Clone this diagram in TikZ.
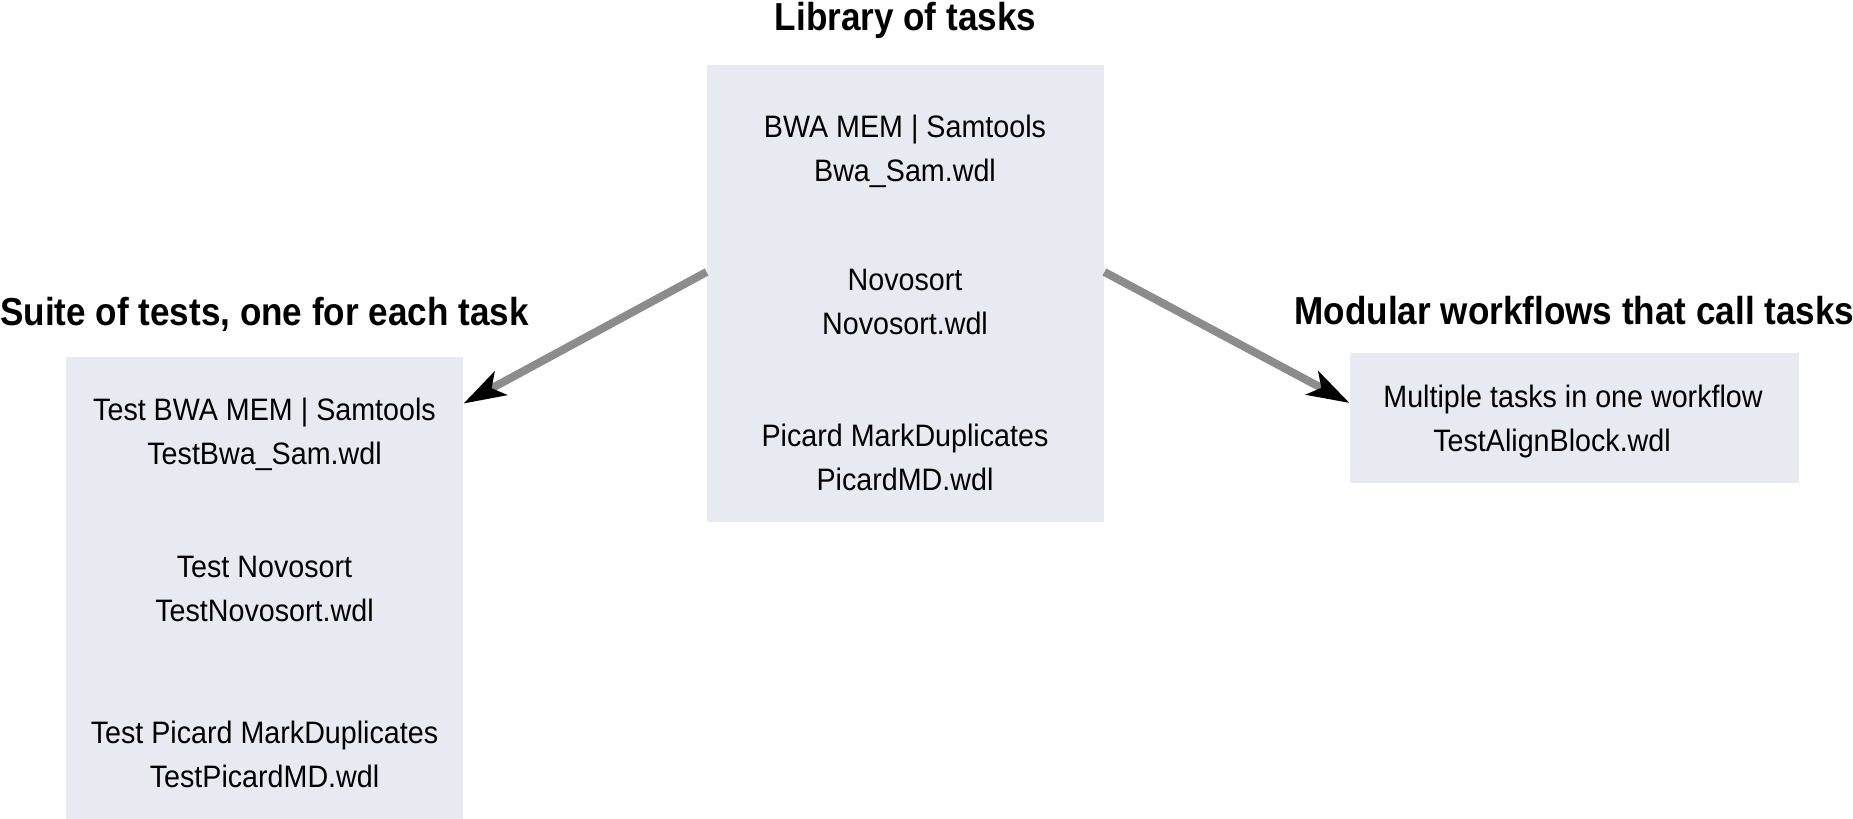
\documentclass[tikz,border=0pt]{standalone}
\usepackage{fontspec}
\setmainfont{Liberation Sans}[FakeStretch=0.925]
\newfontfamily\headfont{Liberation Sans}[FakeStretch=0.9]
\usetikzlibrary{arrows.meta,positioning}

\definecolor{boxgray}{RGB}{232,234,242}
\definecolor{flowgray}{RGB}{140,140,140}

\begin{document}
\begin{tikzpicture}[
    x = 0.5pt,
    y = -0.5pt,
    box/.style = {
      fill = boxgray,
      inner sep = 0pt,
      minimum width = 198.5pt
    },
    task/.style = {
      align = center,
      anchor = base,
      font = \fontsize{15.5}{22}\selectfont
    },
    head/.style = {
      anchor = base,
      font = \headfont\bfseries\fontsize{19.5}{24}\selectfont
    },
    flow/.style = {
      draw = flowgray,
      line width = 4pt,
      -{Stealth[black, length=21pt, width=13pt, inset=5pt]}
    }
  ]
  \useasboundingbox (0,0) rectangle (1853,819);

  % the three boxes
  \node[box, minimum height=228.5pt] (lib) at (905.5,293.5) {};
  \node[box, minimum height=231pt] (suite) at (264.5,588) {};
  \node[box, minimum width=224.5pt, minimum height=65pt] (wf) at (1574.5,418) {};

  \node[head] (libtitle) at ([yshift=17pt]lib.north) {Library of tasks};
  \node[head] (suitetitle) at ([yshift=15.5pt]suite.north) {Suite of tests, one for each task};
  \node[head] (wftitle) at ([yshift=14pt]wf.north) {Modular workflows that call tasks};

  % library
  \node[task] (bwa) at (905,181) {BWA MEM | Samtools\\Bwa\_Sam.wdl};
  \node[task] (novo) at (905,334) {Novosort\\Novosort.wdl};
  \node[task] (picard) at (905,490) {Picard MarkDuplicates\\PicardMD.wdl};

  % tests
  \node[task] (testbwa) at (264.5,464) {Test BWA MEM | Samtools\\TestBwa\_Sam.wdl};
  \node[task] (testnovo) at (264.5,621) {Test Novosort\\TestNovosort.wdl};
  \node[task] (testpicard) at (264.5,787) {Test Picard MarkDuplicates\\TestPicardMD.wdl};

  % workflow
  \node[task] (align) at (1573,451) {Multiple tasks in one workflow\\TestAlignBlock.wdl\hspace*{21pt}};

  \draw[flow] ([yshift=10.75pt]lib.west) -- ([yshift=-23.5pt]suite.north east);
  \draw[flow] ([yshift=10.75pt]lib.east) -- ([yshift=7.5pt]wf.west);

\end{tikzpicture}
\end{document}
